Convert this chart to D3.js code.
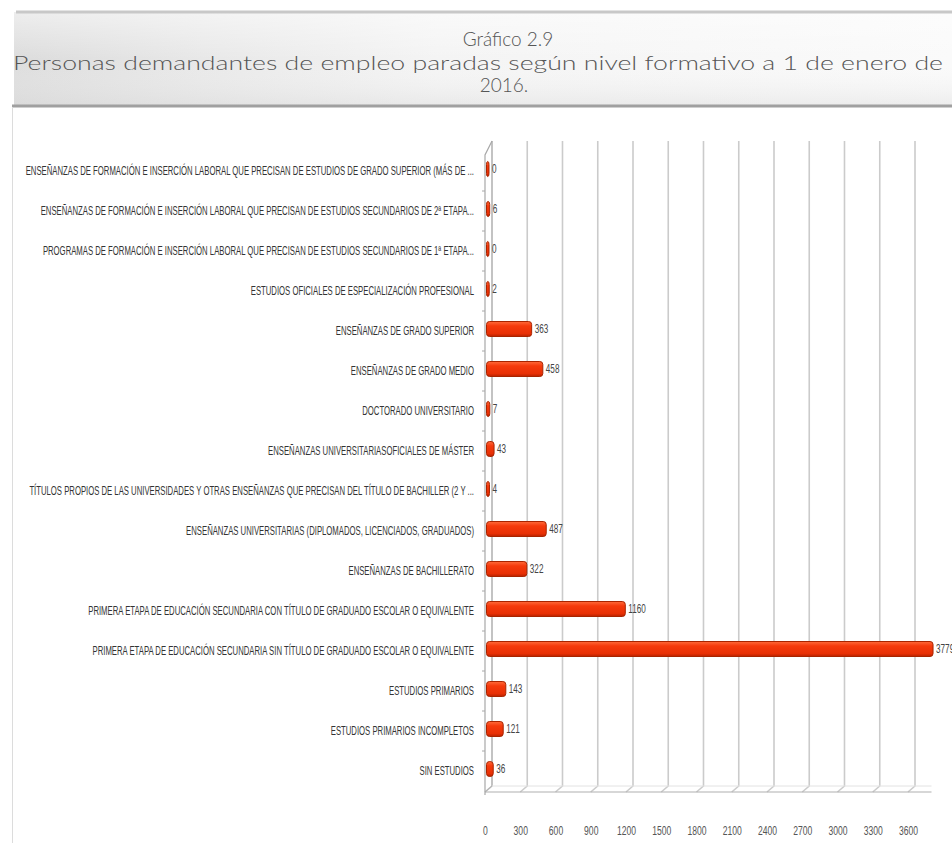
<!DOCTYPE html>
<html>
<head>
<meta charset="utf-8">
<script src="https://cdn.jsdelivr.net/npm/d3@7"></script>
<style>
  body { margin: 0; background: #fff; }
  svg { display: block; }
</style>
</head>
<body>
<svg id="chart" width="952" height="843"></svg>
<script>
// Education levels, listed top to bottom as drawn
const categories = [
  "ENSEÑANZAS DE FORMACIÓN E INSERCIÓN LABORAL QUE PRECISAN DE ESTUDIOS DE GRADO SUPERIOR (MÁS DE ...",
  "ENSEÑANZAS DE FORMACIÓN E INSERCIÓN LABORAL QUE PRECISAN DE ESTUDIOS SECUNDARIOS DE 2ª ETAPA...",
  "PROGRAMAS DE FORMACIÓN E INSERCIÓN LABORAL QUE PRECISAN DE ESTUDIOS SECUNDARIOS DE 1ª ETAPA...",
  "ESTUDIOS OFICIALES DE ESPECIALIZACIÓN PROFESIONAL",
  "ENSEÑANZAS DE GRADO SUPERIOR",
  "ENSEÑANZAS DE GRADO MEDIO",
  "DOCTORADO UNIVERSITARIO",
  "ENSEÑANZAS UNIVERSITARIASOFICIALES DE MÁSTER",
  "TÍTULOS PROPIOS DE LAS UNIVERSIDADES Y OTRAS ENSEÑANZAS QUE PRECISAN DEL TÍTULO DE BACHILLER (2 Y ...",
  "ENSEÑANZAS UNIVERSITARIAS (DIPLOMADOS, LICENCIADOS, GRADUADOS)",
  "ENSEÑANZAS DE BACHILLERATO",
  "PRIMERA ETAPA DE EDUCACIÓN SECUNDARIA CON TÍTULO DE GRADUADO ESCOLAR O EQUIVALENTE",
  "PRIMERA ETAPA DE EDUCACIÓN SECUNDARIA SIN TÍTULO DE GRADUADO ESCOLAR O EQUIVALENTE",
  "ESTUDIOS PRIMARIOS",
  "ESTUDIOS PRIMARIOS INCOMPLETOS",
  "SIN ESTUDIOS"
];

// Unemployed job seekers per level, 1 January 2016
const values = [0, 6, 0, 2, 363, 458, 7, 43, 4, 487, 322, 1160, 3779, 143, 121, 36];

// Horizontal axis ticks
const tickValues = [0, 300, 600, 900, 1200, 1500, 1800, 2100, 2400, 2700, 3000, 3300, 3600];

const titleLines = [
  "Gráfico 2.9",
  "Personas demandantes de empleo paradas según nivel formativo a 1 de enero de",
  "2016."
];

const svg = d3.select("#chart");
const W = 952, H = 843;
const defs = svg.append("defs");

// ---------- header band ----------
const hg = defs.append("linearGradient").attr("id", "headBg")
  .attr("x1", "0").attr("x2", "1").attr("y1", "0").attr("y2", "0");
hg.append("stop").attr("offset", "0").attr("stop-color", "#dcdcdc");
hg.append("stop").attr("offset", "0.2").attr("stop-color", "#e8e8e8");
hg.append("stop").attr("offset", "0.45").attr("stop-color", "#f4f4f4");
hg.append("stop").attr("offset", "1").attr("stop-color", "#fafafa");

const hv = defs.append("linearGradient").attr("id", "headShade")
  .attr("x1", "0").attr("x2", "0").attr("y1", "0").attr("y2", "1");
hv.append("stop").attr("offset", "0").attr("stop-color", "#ffffff").attr("stop-opacity", 0.5);
hv.append("stop").attr("offset", "0.5").attr("stop-color", "#ffffff").attr("stop-opacity", 0);
hv.append("stop").attr("offset", "1").attr("stop-color", "#d8d8d8").attr("stop-opacity", 0.4);

svg.append("rect").attr("x", 14).attr("y", 12).attr("width", W - 14).attr("height", 94)
  .attr("fill", "url(#headBg)");
svg.append("rect").attr("x", 14).attr("y", 12).attr("width", W - 14).attr("height", 94)
  .attr("fill", "url(#headShade)");
svg.append("line").attr("x1", 16).attr("x2", W).attr("y1", 12).attr("y2", 12)
  .attr("stroke", "#c8c8c8").attr("stroke-width", 3);
svg.append("line").attr("x1", 12).attr("x2", W).attr("y1", 106).attr("y2", 106)
  .attr("stroke", "#a0a0a0").attr("stroke-width", 3);
// frame edge down the left side
svg.append("line").attr("x1", 12.5).attr("x2", 12.5).attr("y1", 107).attr("y2", H)
  .attr("stroke", "#dcdcdc").attr("stroke-width", 1);

const titleFont = "Lato, 'Open Sans', sans-serif";
svg.append("text").attr("x", 508).attr("y", 46)
  .attr("text-anchor", "middle").attr("font-family", titleFont).attr("font-weight", 300)
  .attr("font-size", 19).attr("fill", "#555").text(titleLines[0]);
svg.append("text").attr("x", 478).attr("y", 70)
  .attr("text-anchor", "middle").attr("font-family", titleFont).attr("font-weight", 300)
  .attr("font-size", 19).attr("fill", "#555")
  .attr("textLength", 930).attr("lengthAdjust", "spacingAndGlyphs")
  .text(titleLines[1]);
svg.append("text").attr("x", 504).attr("y", 92)
  .attr("text-anchor", "middle").attr("font-family", titleFont).attr("font-weight", 300)
  .attr("font-size", 19).attr("fill", "#555").text(titleLines[2]);

// ---------- chart ----------
const x0 = 485, xEnd = 931.5;
const x = d3.scaleLinear().domain([0, 3800]).range([x0, xEnd]);
const y = d3.scaleBand().domain(categories).range([151, 791]).paddingInner(0).paddingOuter(0);

const depthX = 7, depthY = -6;     // 3-D depth offset of the back wall
const floorY = 792;                // front edge of the floor
const wallTop = 141;               // top of the back wall

// grid on the back wall, folding down onto the floor
svg.append("g").selectAll("path").data(tickValues).join("path")
  .attr("d", t => `M${x(t) + depthX},${wallTop} L${x(t) + depthX},${floorY + depthY} L${x(t)},${floorY}`)
  .attr("fill", "none")
  .attr("stroke", t => t === 0 ? "#b5b5b5" : "#cbcbcb")
  .attr("stroke-width", 1.6);

// floor front edge
svg.append("line").attr("x1", x0).attr("x2", xEnd).attr("y1", floorY).attr("y2", floorY)
  .attr("stroke", "#b0b0b0").attr("stroke-width", 1.2);
// floor back edge
svg.append("line").attr("x1", x0 + depthX).attr("x2", xEnd).attr("y1", floorY + depthY).attr("y2", floorY + depthY)
  .attr("stroke", "#e2e2e2").attr("stroke-width", 1);

// front vertical axis with slanted top corner
svg.append("path")
  .attr("d", `M${x0 + depthX},${wallTop} L${x0},${y.range()[0] + 4} L${x0},${floorY + 3}`)
  .attr("fill", "none").attr("stroke", "#a8a8a8").attr("stroke-width", 1.2);
// minor ticks between categories
svg.append("g").selectAll("line")
  .data(categories.slice(1))
  .join("line")
  .attr("x1", x0 - 3).attr("x2", x0)
  .attr("y1", d => y(d)).attr("y2", d => y(d))
  .attr("stroke", "#a8a8a8").attr("stroke-width", 1);

const labFont = "'Liberation Sans', Arial, sans-serif";

// horizontal axis labels (condensed)
const axis = d3.axisBottom(x).tickValues(tickValues).tickSize(0).tickPadding(0).tickFormat(d3.format("d"));
const axG = svg.append("g").attr("transform", `translate(0,${floorY + 34})`).call(axis);
axG.select(".domain").remove();
axG.selectAll(".tick text")
  .attr("font-family", labFont).attr("font-size", 13).attr("fill", "#555")
  .attr("transform", "scale(0.66,1)");

// category labels (condensed)
const labG = svg.append("g");
labG.selectAll("text").data(categories).join("text")
  .attr("transform", d => `translate(474,${y(d) + y.bandwidth() / 2 + 4}) scale(0.645,1)`)
  .attr("text-anchor", "end")
  .attr("font-family", labFont).attr("font-size", 12).attr("fill", "#333")
  .text(d => d);

// bar fill
const bg = defs.append("linearGradient").attr("id", "barFill")
  .attr("x1", "0").attr("x2", "0").attr("y1", "0").attr("y2", "1");
bg.append("stop").attr("offset", "0").attr("stop-color", "#ff6a3a");
bg.append("stop").attr("offset", "0.3").attr("stop-color", "#f53a0c");
bg.append("stop").attr("offset", "0.8").attr("stop-color", "#e83005");
bg.append("stop").attr("offset", "1").attr("stop-color", "#b82200");

const data = categories.map((c, i) => ({ c, v: values[i] }));
const barH = 15, cap = 4;

svg.append("g").selectAll("rect").data(data).join("rect")
  .attr("x", x(0) + 1.5)
  .attr("y", d => y(d.c) + y.bandwidth() / 2 - 2 - barH / 2)
  .attr("width", d => x(d.v) - x(0) + cap - 1.5)
  .attr("height", barH)
  .attr("rx", 3).attr("ry", 3)
  .attr("fill", "url(#barFill)")
  .attr("stroke", "#a82400").attr("stroke-width", 1);

// value labels
svg.append("g").selectAll("text").data(data).join("text")
  .attr("transform", d => `translate(${x(d.v) + cap + 3},${y(d.c) + y.bandwidth() / 2 + 2}) scale(0.68,1)`)
  .attr("font-family", labFont).attr("font-size", 12).attr("fill", "#444")
  .text(d => d.v);
</script>
</body>
</html>
